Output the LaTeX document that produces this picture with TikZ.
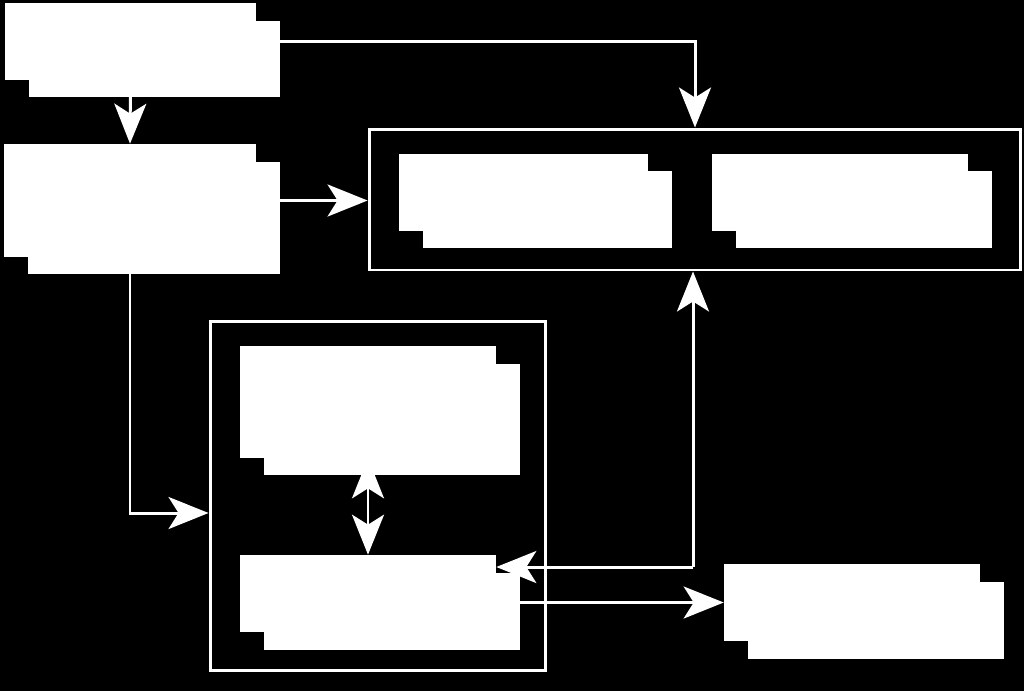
\documentclass[tikz,border=0pt]{standalone}
\usetikzlibrary{arrows.meta,shadows}
\begin{document}
\begin{tikzpicture}[x=0.02cm, y=-0.02cm,
        >={Stealth[length=0.8cm, width=0.64cm, inset=0.2cm]},
        card/.style={fill=white, inner sep=0pt, minimum width=5.04cm, minimum height=1.54cm,
                copy shadow={shadow xshift=0.48cm, shadow yshift=-0.35cm, fill=white, draw=none}},
        group/.style={draw=white, line width=1.7pt, inner sep=0pt},
        link/.style={draw=white, line width=1.7pt, ->}]
        \fill[black] (0,0) rectangle (1024,691);

        \node[card] (a)  at (130.5,41.5) {};
        \node[card, minimum height=2.26cm] (b)  at (130,200.5) {};

        \node[group, minimum width=13.04cm, minimum height=2.82cm] (grpc) at (695,199.5) {};
        \node[card, minimum width=4.98cm] (c1) at (523.5,192) {};
        \node[card, minimum width=5.12cm] (c2) at (840,192) {};

        \node[group, minimum width=6.72cm, minimum height=7cm] (grpd) at (378,496) {};
        \node[card, minimum width=5.12cm, minimum height=2.24cm] (d1) at (368,402) {};
        \node[card, minimum width=5.12cm] (d2) at (368,593.5) {};

        \node[card, minimum width=5.12cm] (e)  at (852,602.5) {};

        \coordinate (turn) at (693,567);

        \draw[link] (a.south) -- (b.north);
        \draw[link] (a.east) -| (grpc.north);
        \draw[link] (b.east) -- (b.east -| grpc.west);
        \draw[link] (b.south) |- ([yshift=-0.34cm]grpd.west);
        \draw[link, <->] (d1.south) -- (d2.north);
        \draw[link] (turn) -- (turn |- grpc.south);
        \draw[link] (turn) -- (turn -| d2.east);
        \draw[link] (d2.east |- e.west) -- (e.west);
        \end{tikzpicture}
\end{document}
